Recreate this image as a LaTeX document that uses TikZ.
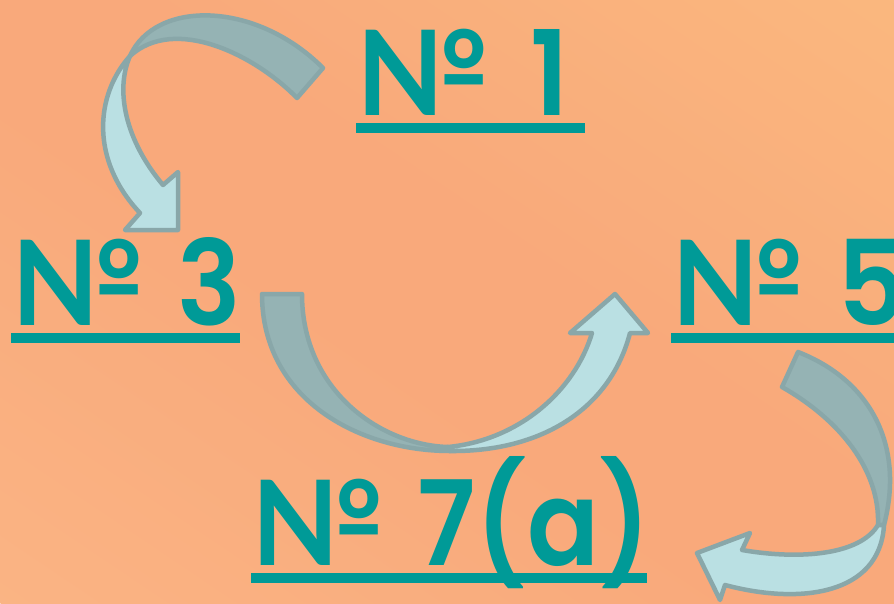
\documentclass[tikz,border=0pt]{standalone}
\usepackage{fontspec}
\newfontfamily\labelfont{Poppins SemiBold}[FakeStretch=0.9]
\newfontfamily\numfont{Lato}[FakeStretch=0.96]
\definecolor{teal}{HTML}{009A97}
\definecolor{bandback}{HTML}{95B3B4}
\definecolor{bandfront}{HTML}{BAE0E3}
\definecolor{bandline}{HTML}{89A7A9}
\definecolor{bgA}{HTML}{FBC18E}
\definecolor{bgB}{HTML}{F9A97B}
\definecolor{bgC}{HTML}{FBC982}
\pgfdeclarehorizontalshading{bgshade}{100bp}{color(0bp)=(bgA); color(46bp)=(bgB); color(54bp)=(bgB); color(100bp)=(bgC)}
\newcommand{\nosign}{{\numfont\bfseries №}\hspace{34pt}}
\begin{document}
\begin{tikzpicture}[x=1pt,y=-1pt,
  lbl/.style={font=\labelfont\fontsize{118}{124}\selectfont, text=teal, inner sep=0pt, anchor=base west},
  uline/.style={fill=teal},
  back/.style={fill=bandback, draw=bandline, line width=4.5pt, line join=round},
  front/.style={fill=bandfront, draw=bandline, line width=4.5pt, line join=round}]
\useasboundingbox (0,0) rectangle (894,603);
\begin{scope}
\clip (0,0) rectangle (894,603);
\begin{scope}[transform canvas={rotate around={56:(447,301.5)}}]
\shade[shading=bgshade] (-53,-298.5) rectangle (947,901.5);
\end{scope}
\end{scope}

% labels
\node[lbl] (n1) at (355,115) {\nosign\hspace{8pt}1};
\node[lbl] (n3) at (10,325) {\nosign 3};
\node[lbl] (n5) at (670,325) {\nosign 5};
\node[lbl] (n7) at (250,565) {\nosign 7(a)};
\fill[uline] (356,123) rectangle (585,133);
\fill[uline] (11,333) rectangle (240,343);
\fill[uline] (671,333) rectangle (894,343);
\fill[uline] (251,573) rectangle (647,583);

% arrow 1 (No 1 -> No 3)
\draw[back] (323,68) -- (297,98) .. controls (255,55) and (175,15) .. (130,56)
  .. controls (155,0) and (255,0) .. cycle;
\draw[front] (130,56) .. controls (95,95) and (90,160) .. (140,213)
  -- (125,230) -- (178,230) -- (178,172) -- (163,185)
  .. controls (125,140) and (115,90) .. cycle;

% arrow 2 (No 3 -> No 5)
\draw[back] (262,294) -- (302,294) .. controls (302,390) and (380,445) .. (448,447)
  -- (450,451) .. controls (360,451) and (262,400) .. cycle;
\draw[front] (448,447) .. controls (520,440) and (575,390) .. (592,333)
  -- (570,333) -- (615,294) -- (648,333) -- (630,333)
  .. controls (610,410) and (540,452) .. (450,451) -- cycle;

% arrow 3 (No 5 -> No 7)
\draw[back] (798,352) -- (782,387) .. controls (840,420) and (880,470) .. (878,525)
  -- (884,525) .. controls (905,445) and (870,380) .. cycle;
\draw[front] (878,525) .. controls (860,555) and (800,560) .. (742,550)
  -- (750,533) -- (697,553) -- (720,600) -- (725,585)
  .. controls (800,605) and (880,595) .. (884,525) -- cycle;
\end{tikzpicture}
\end{document}
